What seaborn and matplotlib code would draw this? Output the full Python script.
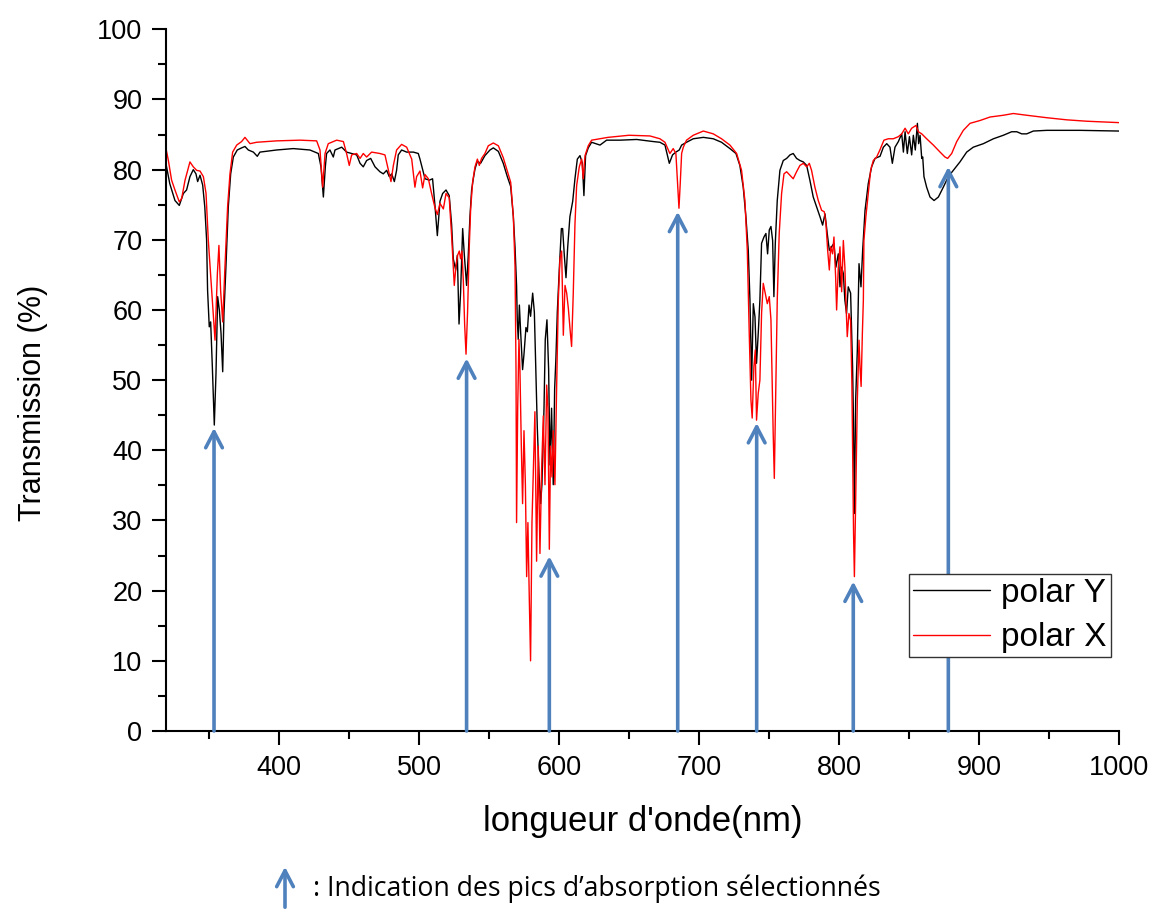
import matplotlib
matplotlib.use("Agg")
import matplotlib.pyplot as plt
import seaborn as sns
import pandas as pd
from matplotlib.ticker import MultipleLocator

# ---------------- data ----------------
wl_polar_y = [319.5, 322, 325.7, 328.8, 331.7, 334, 336.4, 338.8, 340.7, 341.9, 343.6, 345.5, 347, 348.3, 349,
              350.2, 351.2, 352.4, 353.8, 355, 356.2, 357.4, 358.6, 359.8, 360.7, 362.1, 363.8, 365.5, 367.4,
              370.2, 373.3, 375.7, 378.1, 381.7, 384.5, 386.4, 398.3, 410.2, 422.1, 428.1, 430, 431.7, 433.1,
              434, 436.4, 438.8, 440, 442.4, 444.8, 448.3, 451.9, 455.5, 457.9, 460.2, 462.6, 465.5, 468.6,
              472.1, 474.5, 476.9, 478.8, 480.5, 482.4, 484, 485.2, 487.6, 491.2, 496, 499.5, 500.7, 504.3,
              507.4, 509.7, 511.4, 513.1, 515, 516.9, 519.3, 521.6, 523.3, 524.5, 526.2, 527.4, 528.6, 529.7,
              531.2, 532.4, 534, 535.2, 536.4, 537.6, 538.8, 540, 541.7, 544, 547.1, 550.7, 553.1, 556.7,
              560.2, 563.1, 565.5, 567.4, 568.6, 569.7, 570.2, 570.9, 571.7, 572.6, 574, 575, 576.4, 577.4,
              578.6, 579.7, 581.2, 582.4, 583.6, 584.5, 585.7, 586.9, 587.8, 589.3, 590.2, 591.4, 592.6,
              593.6, 594.7, 595.9, 596.9, 597.8, 598.8, 600.2, 601.7, 602.6, 603.8, 605, 606.2, 607.8, 609.8,
              611.4, 613.1, 615, 616.7, 617.8, 619, 620.9, 623.3, 629.3, 634, 643.6, 655.5, 667.4, 672.1,
              675.7, 678.8, 681.1, 683.5, 685.9, 687.6, 691.1, 695.9, 703.1, 710.2, 716.1, 722.1, 726.4,
              729.2, 731.6, 733.5, 735.2, 736.4, 737.6, 738.8, 740, 741.1, 742.3, 743.5, 744.7, 746.4, 747.8,
              749, 750.2, 751.4, 752.6, 753.5, 754.5, 755.9, 757.8, 760.2, 762.6, 765, 767.3, 769.7, 772.1,
              774.5, 776.9, 779.2, 781.6, 784, 786.4, 788.3, 790, 791.6, 793.1, 794.7, 796.4, 797.8, 799.5,
              800.7, 801.9, 803.1, 804.2, 805.4, 806.6, 808.3, 809.7, 810.3, 811, 811.9, 813.1, 814.3, 815.7,
              816.9, 818.6, 820.9, 823.3, 825.7, 829.3, 831.7, 834.1, 836.4, 838.1, 840, 842.4, 844.8, 846,
              847.2, 848.8, 850.3, 851.9, 853.1, 854.5, 856, 856.9, 857.9, 859.1, 859.8, 860.7, 862.6, 865,
              867.9, 871, 874.5, 878.1, 881.7, 886.4, 891.2, 895.9, 903.1, 910.3, 917.4, 923.3, 927, 930.5,
              934.1, 938.8, 948.4, 972.2, 1000]
t_polar_y = [80.6, 78, 75.6, 74.9, 76.6, 77.1, 79, 80, 79.4, 78.3, 79.2, 77.8, 74.7, 70, 62.8,
             57.6, 58.3, 51.9, 43.6, 50.9, 61.9, 60, 56.7, 51.2, 59.5, 66.1, 74.7, 79.4, 81.8,
             82.8, 83.1, 83.3, 82.8, 82.5, 81.9, 82.5, 82.8, 83.0, 82.8, 82.3, 80.4, 76.1, 80.4,
             82.3, 82.8, 81.8, 82.8, 83, 83.2, 82.5, 82.3, 82.1, 80.9, 80.4, 81.3, 81.6, 80.4,
             79.7, 79.4, 79.9, 79, 79.4, 78.3, 79.9, 82.1, 82.8, 82.5, 82.5, 82.3, 81.5, 78.7,
             78.5, 78.7, 74.9, 70.6, 75.5, 76.6, 77.1, 76.3, 72.2, 67.3, 65.7, 67.8, 58, 62.4,
             71.6, 67.8, 63.5, 67.8, 73.3, 77.1, 78.7, 80.1, 81.2, 80.9, 82, 82.8, 83.1, 82.6,
             80.9, 79, 77.6, 73.3, 68.9, 63.5, 58.6, 55.8, 60.7, 56.9, 51.5, 53.7, 57.5, 56.9,
             60.7, 59.1, 62.4, 59.7, 50.4, 43.3, 36.8, 32.4, 35.1, 46, 55.8, 58.6, 51.5,
             37.9, 46, 35.1, 48.8, 53.1, 59.7, 65.7, 71.6, 71.6, 67.8, 64.6, 68.9, 73.3, 75.5,
             78.7, 81.5, 82, 80.9, 76.3, 82, 83.1, 83.9, 83.5, 84.2, 84.2, 84.3, 84, 83.9,
             83.5, 80.9, 82.1, 82.5, 82.8, 83.5, 83.9, 84.4, 84.6, 84.4, 83.9, 83, 82.3,
             80.6, 77.5, 73.3, 68.5, 61.4, 50, 60.9, 59, 52.4, 56.6, 61.4, 69.5, 70.4, 70.9,
             68, 71.4, 71.9, 69.9, 61.9, 69.5, 75.6, 79.9, 81.3, 81.6, 82.1, 82.3, 81.6, 81.3,
             81.1, 80.6, 78.5, 76.1, 74.7, 73.3, 72.1, 73.7, 70.9, 68.5, 69, 69.5, 66.1, 68,
             63.3, 66.1, 65.2, 61.4, 59.5, 63.3, 62.4, 51.9, 44.8, 31, 47.2, 54.3, 66.6, 63.3,
             68.5, 74.2, 78, 80.4, 81.6, 81.9, 83.2, 83.7, 83.2, 80.9, 83.2, 84, 85.1, 82.5,
             85.4, 82.3, 84.7, 82.1, 84.9, 82.8, 86.6, 83.7, 84.9, 81.6, 81.8, 79, 77.5, 76.1,
             75.6, 76.1, 77.5, 79, 79.9, 81.1, 82.5, 83.2, 83.7, 84.4, 84.9, 85.4, 85.4, 85.1,
             85.1, 85.5, 85.6, 85.6, 85.5]

wl_polar_x = [319.5, 321, 323.3, 325.7, 328.8, 330.5, 332.9, 336.4, 338.8, 341.2, 343.6, 346, 347.9, 349.5,
              351.9, 354.3, 356, 357.1, 358.3, 359.8, 361.4, 363.3, 365, 366.9, 369.8, 373.3, 375.7, 379.3,
              384, 398.3, 415, 426.9, 429.3, 431.2, 432.9, 435.2, 441.2, 446, 448.3, 450.2, 451.9, 455.5,
              457.9, 460.2, 462.6, 466.2, 472.1, 475.7, 478.8, 480, 481.7, 484, 487.6, 491.2, 494.8, 497.1,
              498.3, 500.7, 502.6, 504.3, 506.7, 509, 511.4, 513.1, 515, 517.4, 519.3, 521.6, 523.3, 525.2,
              526.4, 527.6, 528.8, 529.7, 530.7, 531.7, 532.6, 533.6, 534.7, 535.9, 536.9, 538.3, 540, 541.7,
              543.1, 544.7, 547.1, 549.5, 553.1, 556.7, 560.2, 563.1, 565.5, 567.4, 568.6, 569.3, 569.7,
              570.5, 571.4, 572.1, 573.1, 574, 575, 576, 576.9, 577.8, 578.8, 579.7, 580.7, 581.7, 582.8,
              584, 585.2, 586.4, 587.6, 588.8, 590, 591.2, 592.1, 593.1, 594, 595, 595.9, 597.1, 598.3,
              599.5, 600.7, 601.9, 603.1, 604.3, 605.5, 606.7, 607.8, 609, 610.2, 611.4, 612.6, 614.5,
              616.2, 617.3, 618.6, 620.9, 623.3, 635, 650, 665, 672.1, 675.7, 679.2, 681.6, 683.5, 684.7,
              685.7, 686.6, 687.6, 688.8, 691.1, 695.9, 703.1, 710.2, 716.1, 722.1, 726.9, 730.4, 732.8,
              734.5, 735.9, 737.1, 738, 739.2, 740.2, 741.1, 742.3, 743.5, 744.7, 745.9, 747.3, 748.8,
              750.2, 751.4, 752.3, 753, 753.8, 754.7, 755.9, 757.3, 759, 760.7, 762.6, 765, 767.3, 769.7,
              772.1, 774.5, 776.9, 778.8, 780.4, 782.8, 785.2, 787.6, 789.5, 790.7, 791.9, 793.1, 794,
              795.4, 796.4, 797.6, 798.3, 799.5, 800.7, 801.9, 803.1, 804.2, 804.9, 805.9, 807.1, 808.3,
              809.2, 809.8, 810.4, 811, 811.9, 813.1, 814.3, 815, 815.8, 816.7, 817.4, 817.8, 819.2, 820.9,
              822.6, 824.5, 826.9, 829.2, 832.1, 835.2, 838.8, 842.4, 844.8, 847.2, 849.5, 851.9, 855,
              856.7, 859.1, 862.6, 867.4, 872.2, 875.7, 877.6, 880.5, 884.1, 888.8, 893.6, 900.7, 907.9,
              917.4, 924.5, 934.1, 948.4, 962.6, 976.9, 1000]
t_polar_x = [82.8, 81.3, 78.5, 77.1, 75.4, 75.9, 78.5, 81.1, 80.4, 79.9, 79.8, 79, 76.6, 70,
             62.8, 55.7, 65.2, 69.2, 62.8, 58.3, 66.1, 74.7, 79.4, 82.5, 83.5, 84, 84.6, 83.7,
             83.9, 84.1, 84.2, 84.1, 82.8, 77.5, 82.3, 83.7, 84.2, 84, 82.3, 80.6, 82.1, 82.3,
             81.6, 82.3, 81.8, 82.5, 82.3, 82.1, 79.4, 78.3, 80.6, 82.8, 83.6, 83.2, 81.5, 77.5,
             79, 79.8, 77.4, 79.3, 78.7, 76.6, 74.6, 73.6, 75.2, 74.4, 76.6, 76, 70.6, 63.5,
             66.2, 67.8, 68.4, 67.3, 68.4, 64, 58, 53.7, 59.7, 68.9, 74.4, 78.2, 80.4, 81.5,
             80.6, 81.6, 82.3, 83.4, 83.8, 83.4, 81.7, 79.8, 78.2, 73.3, 66.2, 51.5, 29.7,
             46, 55.8, 51.5, 40.6, 32.4, 42.8, 35.1, 22, 29.7, 18.8, 10, 29.7, 37.3, 45.5,
             24.2, 40.6, 25.3, 37.3, 44.9, 35.1, 49.3, 46, 25.9, 40.6, 36.2, 42.8, 35.1, 48.8,
             61.3, 67.3, 68.4, 56.4, 63.5, 62.4, 60.2, 57.5, 54.8, 62.4, 72.2, 77.7, 80.4,
             81.5, 78.7, 82, 83.4, 84.2, 84.6, 84.9, 84.8, 84.4, 83.9, 82.3, 83, 82.3, 78,
             74.5, 78, 82.3, 83.2, 84.2, 84.9, 85.5, 85.1, 84.4, 83.5, 82.3, 79.9, 75.6,
             68.5, 56.6, 47.2, 44.6, 51.9, 54.3, 44.3, 48.1, 50, 59.5, 63.8, 62.4, 60.9,
             61.9, 58.6, 49.5, 42.4, 36, 47.2, 61.4, 70.9, 76.6, 79.4, 79.7, 79.2, 78.7, 79.7,
             80.6, 80.9, 80.4, 80.9, 79.9, 77.5, 75.6, 74.2, 74, 72.3, 68.5, 65.7, 69,
             68, 70.4, 64.7, 60, 66.1, 69, 62.6, 69.9, 66.1, 61.4, 56.2, 59.5, 58.5,
             49.5, 38.1, 28.2, 22, 32.9, 47.2, 55.7, 51.9, 49.1, 56.7, 61.4, 69.9, 73.3, 76.6,
             79.9, 81.3, 81.8, 82.8, 84.2, 84.4, 84.4, 84.7, 85.1, 85.9, 85.1, 85.9, 86.3,
             85.4, 85.1, 84.4, 83.5, 82.5, 81.8, 81.6, 82.3, 84, 85.6, 86.6, 87, 87.5,
             87.75, 88, 87.75, 87.4, 87.1, 86.9, 86.7]

series_labels = ["polar Y", "polar X"]
series_colors = ["black", "#ff0000"]

# selected absorption peaks (arrow position, arrow tip transmission)
peak_wl = [353.6, 534.0, 593.1, 684.8, 741.2, 810.2, 878.1]
peak_tip = [43.2, 53.1, 24.9, 74.0, 43.9, 21.3, 80.4]

x_ticks = [400, 500, 600, 700, 800, 900, 1000]
y_ticks = [0, 10, 20, 30, 40, 50, 60, 70, 80, 90, 100]

x_label = "longueur d'onde(nm)"
y_label = "Transmission (%)"
note_text = ": Indication des pics d\u2019absorption s\u00e9lectionn\u00e9s"

# ---------------- figure ----------------
sns.set_style("ticks")
plt.rcParams['font.family'] = ['Liberation Sans', 'DejaVu Sans']
plt.rcParams['text.color'] = 'black'
plt.rcParams['axes.labelcolor'] = 'black'
plt.rcParams['xtick.color'] = 'black'
plt.rcParams['ytick.color'] = 'black'

W, H = 1154, 910
fig = plt.figure(figsize=(W / 100, H / 100), dpi=100)
ax = fig.add_axes([166 / W, 1 - 731 / H, (1119 - 166) / W, (731 - 29.3) / H])

df_y = pd.DataFrame({"wl": wl_polar_y, "T": t_polar_y})
df_x = pd.DataFrame({"wl": wl_polar_x, "T": t_polar_x})
sns.lineplot(data=df_y, x="wl", y="T", ax=ax, color=series_colors[0], lw=1.0,
             label=series_labels[0], estimator=None, sort=False, zorder=2)
sns.lineplot(data=df_x, x="wl", y="T", ax=ax, color=series_colors[1], lw=1.0,
             label=series_labels[1], estimator=None, sort=False, zorder=2.1)

arrow_blue = "#4f81bd"
for wl, tip in zip(peak_wl, peak_tip):
    ax.annotate("", xy=(wl, tip), xytext=(wl, 0), xycoords="data", textcoords="data",
                arrowprops=dict(arrowstyle="->,head_length=1.15,head_width=0.6",
                                color=arrow_blue, lw=2.6, shrinkA=0, shrinkB=0),
                zorder=3)

ax.set_xlim(319.3, 1000)
ax.set_ylim(0, 100)
ax.xaxis.set_major_locator(MultipleLocator(100))
ax.xaxis.set_minor_locator(MultipleLocator(50))
ax.yaxis.set_major_locator(MultipleLocator(10))
ax.yaxis.set_minor_locator(MultipleLocator(5))
ax.set_xticks(x_ticks)
ax.set_yticks(y_ticks)

for side in ["top", "right"]:
    ax.spines[side].set_visible(False)
for side in ["left", "bottom"]:
    ax.spines[side].set_linewidth(1.5)
    ax.spines[side].set_color("black")

ax.tick_params(which="major", direction="out", length=10, width=1.5, color="black",
               labelsize=19.5, labelcolor="black", pad=7)
ax.tick_params(which="minor", direction="out", length=5.8, width=1.5, color="black")

ax.set_xlabel(x_label, fontsize=25, va="center", color="black")
ax.set_ylabel(y_label, fontsize=22, va="center", color="black")
ax.xaxis.set_label_coords(0.5, (731 - 822) / (731 - 29.3))
ax.yaxis.set_label_coords((33 - 166) / (1119 - 166), (731 - 403) / (731 - 29.3))

leg = ax.legend(loc="upper left",
                bbox_to_anchor=((909 - 166) / (1119 - 166), (731 - 574) / (731 - 29.3)),
                borderaxespad=0, fontsize=24, frameon=True, fancybox=False, shadow=False,
                framealpha=1, edgecolor="#333333", handlelength=2.3, handletextpad=0.35,
                borderpad=0.12, labelspacing=0.4)
leg.get_frame().set_linewidth(1.0)
for t in leg.get_texts():
    t.set_color("black")
leg.set_zorder(10)

# bottom explanatory note
fig.add_artist(matplotlib.patches.FancyArrowPatch(
    (285, 0), (285, H - 864), transform=None,
    arrowstyle="->,head_length=1.15,head_width=0.6", mutation_scale=10,
    color=arrow_blue, lw=2.6))
fig.text(313 / W, 1 - 889 / H, note_text, fontsize=19.2, family=["Open Sans", "DejaVu Sans"],
         ha="left", va="center", color="black")

fig.savefig("out.png", dpi=100)
